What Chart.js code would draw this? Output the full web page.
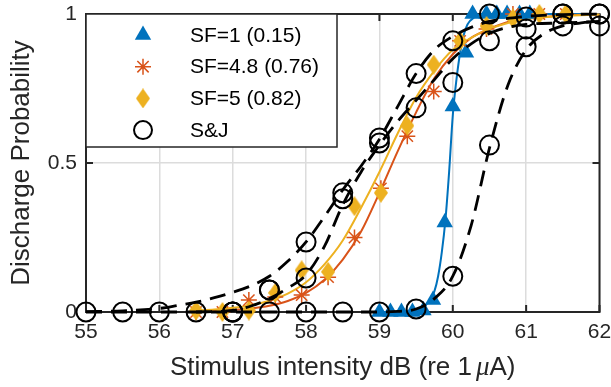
<!DOCTYPE html>
<html>
<head>
<meta charset="utf-8">
<style>
  html, body { margin: 0; padding: 0; background: #fff; }
  #c { display: block; }
</style>
<script src="https://cdn.jsdelivr.net/npm/chart.js@4.4.1/dist/chart.umd.min.js"></script>
</head>
<body>
<canvas id="c" width="611" height="387"></canvas>
<script>
const xTicks = [55, 56, 57, 58, 59, 60, 61, 62];
const yTicks = [0, 0.5, 1];
const yTickLabels = ['0', '0.5', '1'];

// SF=1 (blue triangles)
const sf1X = [59.0, 59.15, 59.3, 59.45, 59.6, 59.73, 59.89, 60.0, 60.18, 60.27, 60.46, 60.6, 60.74, 60.91, 61.05];
const sf1Y = [0, 0, 0, 0, 0.005, 0.04, 0.30, 0.69, 0.87, 1, 1, 1, 1, 1, 1];
const sf1FitX = [59, 59.4, 59.5, 59.6, 59.7, 59.75, 59.8, 59.85, 59.9, 59.95, 60, 60.05, 60.1, 60.15, 60.2, 60.3, 60.4, 62];
const sf1Fit = [0, 0, 0.004, 0.015, 0.045, 0.07, 0.12, 0.2, 0.31, 0.47, 0.66, 0.78, 0.87, 0.93, 0.965, 0.99, 1, 1];

// SF=4.8 (orange asterisks) and SF=5 (yellow diamonds), same stimulus levels
const sfX = [56.5, 56.86, 57.22, 57.58, 57.94, 58.3, 58.66, 59.02, 59.38, 59.74, 60.1, 60.46, 60.82, 61.18, 61.54];
const sf48Y = [0, 0, 0.04, 0.05, 0.057, 0.117, 0.25, 0.415, 0.59, 0.74, 0.91, 0.95, 1, 1, 1];
const sf5Y = [0.005, 0, 0.005, 0.064, 0.14, 0.135, 0.355, 0.40, 0.625, 0.83, 0.91, 0.96, 0.985, 1, 1];
const sfFitX = [56.5, 56.75, 57, 57.25, 57.5, 57.75, 58, 58.25, 58.5, 58.75, 59, 59.25, 59.5, 59.75, 60, 60.25, 60.5, 60.75, 61, 61.5, 62];
const sf48Fit = [0.002, 0.004, 0.007, 0.012, 0.021, 0.037, 0.064, 0.108, 0.176, 0.27, 0.40, 0.54, 0.67, 0.785, 0.865, 0.92, 0.95, 0.973, 0.984, 0.995, 0.998];
const sf5Fit = [0.005, 0.008, 0.014, 0.023, 0.038, 0.062, 0.10, 0.16, 0.24, 0.35, 0.47, 0.60, 0.72, 0.81, 0.88, 0.92, 0.95, 0.97, 0.983, 0.994, 0.998];

// S&J (black circles, dashed fits)
const sjX = [55, 55.5, 56, 56.5, 57, 57.5, 58, 58.5, 59, 59.5, 60, 60.5, 61, 61.5, 62];
const sjC = [0, 0, 0, 0, 0, 0, 0, 0, 0, 0.01, 0.12, 0.56, 0.89, 0.96, 0.96];
const sjABX = [57, 57.5, 58, 58.5, 59, 59.5, 60, 60.5, 61, 61.5, 62];
const sjA = [0, 0.074, 0.235, 0.40, 0.584, 0.80, 0.91, 1.0, 0.99, 1.0, 1.0];
const sjB = [0, 0.074, 0.114, 0.38, 0.567, 0.685, 0.77, 0.91, 0.95, 1.0, 1.0];
const sjFitAX = [55, 55.5, 56, 56.25, 56.5, 56.75, 57, 57.25, 57.5, 57.75, 58, 58.25, 58.5, 58.75, 59, 59.25, 59.5, 59.75, 60, 60.25, 60.5, 61, 61.5, 62];
const sjFitA = [0.001, 0.004, 0.012, 0.022, 0.033, 0.048, 0.066, 0.088, 0.12, 0.17, 0.235, 0.32, 0.41, 0.49, 0.58, 0.69, 0.80, 0.88, 0.925, 0.955, 0.975, 0.992, 0.998, 1.0];
const sjFitBX = [56.5, 57, 57.25, 57.5, 57.75, 58, 58.25, 58.5, 58.75, 59, 59.25, 59.5, 59.75, 60, 60.25, 60.5, 60.75, 61, 61.5, 62];
const sjFitB = [0, 0.005, 0.02, 0.045, 0.08, 0.125, 0.22, 0.36, 0.47, 0.56, 0.64, 0.71, 0.78, 0.85, 0.90, 0.935, 0.955, 0.965, 0.97, 0.975];
const sjFitCX = [55, 59, 59.25, 59.5, 59.75, 60, 60.25, 60.5, 60.75, 61, 61.25, 61.5, 61.75, 62];
const sjFitC = [0, 0, 0.002, 0.01, 0.045, 0.12, 0.29, 0.55, 0.76, 0.88, 0.935, 0.96, 0.97, 0.975];

const BLUE = '#0072BD', ORANGE = '#D95319', YELLOW = '#EDB120', INK = '#262626';
const FONT = '"Liberation Sans", Arial, sans-serif';

function pts(xs, ys) {
  return xs.map((x, i) => ({ x, y: ys[i] }));
}

function diamond(w, h, color) {
  const c = document.createElement('canvas');
  c.width = w; c.height = h;
  const g = c.getContext('2d');
  g.fillStyle = color;
  g.beginPath();
  g.moveTo(w / 2, 0); g.lineTo(w, h / 2); g.lineTo(w / 2, h); g.lineTo(0, h / 2);
  g.closePath();
  g.fill();
  return c;
}
const diamondImg = diamond(14, 20, YELLOW);

function fitLine(data, color, order, dashed) {
  return {
    data, order, borderColor: color, borderWidth: dashed ? 2.8 : 2,
    borderDash: dashed ? [16, 9] : [], pointRadius: 0, showLine: true,
    cubicInterpolationMode: 'monotone', fill: false, clip: false,
  };
}

function markers(label, data, style, order, legendIcon) {
  return Object.assign({
    label, data, order, showLine: false, clip: false, legendIcon,
  }, style);
}

const circleStyle = { pointStyle: 'circle', pointRadius: 9.5, pointBorderWidth: 2, pointBorderColor: '#000', pointBackgroundColor: 'rgba(0,0,0,0)' };

// legend icons drawn by hand, like the MATLAB legend
function drawIcon(ctx, kind, x, y) {
  ctx.save();
  if (kind === 'tri') {
    ctx.fillStyle = BLUE;
    ctx.beginPath();
    ctx.moveTo(x, y - 9.5); ctx.lineTo(x + 8.2, y + 4.75); ctx.lineTo(x - 8.2, y + 4.75);
    ctx.closePath(); ctx.fill();
  } else if (kind === 'star') {
    ctx.strokeStyle = ORANGE; ctx.lineWidth = 1.5;
    ctx.beginPath();
    const r = 8, d = r * Math.SQRT1_2;
    ctx.moveTo(x - r, y); ctx.lineTo(x + r, y);
    ctx.moveTo(x, y - r); ctx.lineTo(x, y + r);
    ctx.moveTo(x - d, y - d); ctx.lineTo(x + d, y + d);
    ctx.moveTo(x - d, y + d); ctx.lineTo(x + d, y - d);
    ctx.stroke();
  } else if (kind === 'dia') {
    ctx.drawImage(diamondImg, x - 7, y - 10);
  } else {
    ctx.strokeStyle = '#000'; ctx.lineWidth = 2;
    ctx.beginPath(); ctx.arc(x, y, 9, 0, Math.PI * 2); ctx.stroke();
  }
  ctx.restore();
}

const framePlugin = {
  id: 'frame',
  beforeDatasetsDraw(chart) {
    const { ctx, chartArea: a, scales: { x, y } } = chart;
    ctx.save();
    ctx.strokeStyle = INK;
    ctx.lineWidth = 2;
    ctx.beginPath();
    xTicks.forEach((v) => {
      const px = x.getPixelForValue(v);
      ctx.moveTo(px, a.bottom); ctx.lineTo(px, a.bottom - 7);
      ctx.moveTo(px, a.top); ctx.lineTo(px, a.top + 7);
    });
    yTicks.forEach((v) => {
      const py = y.getPixelForValue(v);
      ctx.moveTo(a.left, py); ctx.lineTo(a.left + 7, py);
      ctx.moveTo(a.right, py); ctx.lineTo(a.right - 7, py);
    });
    ctx.stroke();
    ctx.strokeRect(a.left, a.top, a.right - a.left, a.bottom - a.top);
    ctx.restore();
  },
  afterDraw(chart) {
    const { ctx, chartArea: a } = chart;
    ctx.save();
    ctx.fillStyle = INK;
    ctx.textBaseline = 'middle';

    // x title with an italic mu
    const normal = '26px ' + FONT;
    const italic = 'italic 27px "Liberation Serif", serif';
    const parts = [['Stimulus intensity dB (re 1', normal, 4], ['\u03bc', italic, 0], ['A)', normal, 0]];
    let total = 0;
    parts.forEach((p) => { ctx.font = p[1]; total += ctx.measureText(p[0]).width + p[2]; });
    let tx = (a.left + a.right) / 2 - total / 2;
    ctx.textAlign = 'left';
    parts.forEach((p) => {
      ctx.font = p[1];
      ctx.fillText(p[0], tx, 368);
      tx += ctx.measureText(p[0]).width + p[2];
    });

    // y title
    ctx.save();
    ctx.translate(22, (a.top + a.bottom) / 2);
    ctx.rotate(-Math.PI / 2);
    ctx.textAlign = 'center';
    ctx.font = normal;
    ctx.fillText('Discharge Probability', 0, 0);
    ctx.restore();

    // legend box
    const lx = a.left, ly = a.top, lw = 251, lh = 133;
    ctx.fillStyle = '#fff';
    ctx.fillRect(lx, ly, lw, lh);
    ctx.strokeStyle = INK;
    ctx.lineWidth = 1.5;
    ctx.strokeRect(lx, ly, lw, lh);
    ctx.font = '21px ' + FONT;
    ctx.fillStyle = '#000';
    ctx.textAlign = 'left';
    const rows = chart.data.datasets.filter((d) => d.legendIcon)
      .sort((p, q) => q.order - p.order);
    rows.forEach((d, i) => {
      const ry = ly + 21 + i * 31.7;
      drawIcon(ctx, d.legendIcon, lx + 57, ry);
      ctx.fillText(d.label, lx + 104, ry + 1);
    });
    ctx.restore();
  },
};

const datasets = [
  markers('S&J', pts(sjX, sjC), circleStyle, 1, 'circ'),
  markers('S&J A', pts(sjABX, sjA), circleStyle, 1),
  markers('S&J B', pts(sjABX, sjB), circleStyle, 1),
  fitLine(pts(sjFitAX, sjFitA), '#000', 2, true),
  fitLine(pts(sjFitBX, sjFitB), '#000', 2, true),
  fitLine(pts(sjFitCX, sjFitC), '#000', 2, true),
  markers('SF=5 (0.82)', pts(sfX, sf5Y), { pointStyle: diamondImg, pointRadius: 7 }, 3, 'dia'),
  markers('SF=4.8 (0.76)', pts(sfX, sf48Y), { pointStyle: 'star', pointRadius: 8, pointBorderWidth: 1.5, pointBorderColor: ORANGE }, 4, 'star'),
  markers('SF=1 (0.15)', pts(sf1X, sf1Y), { pointStyle: 'triangle', pointRadius: 9.5, pointBorderWidth: 0, pointBackgroundColor: BLUE, pointBorderColor: BLUE }, 5, 'tri'),
  fitLine(pts(sfFitX, sf5Fit), YELLOW, 6, false),
  fitLine(pts(sfFitX, sf48Fit), ORANGE, 6, false),
  fitLine(pts(sf1FitX, sf1Fit), BLUE, 6, false),
];

new Chart(document.getElementById('c'), {
  type: 'scatter',
  data: { datasets },
  plugins: [framePlugin],
  options: {
    responsive: false,
    animation: false,
    layout: { padding: { left: 0, right: 11, top: 14, bottom: 0 } },
    plugins: { legend: { display: false }, tooltip: { enabled: false } },
    scales: {
      x: {
        type: 'linear', min: 55, max: 62,
        afterBuildTicks: (s) => { s.ticks = xTicks.map((v) => ({ value: v })); },
        afterFit: (s) => { s.height = 75; s.paddingLeft = 0; s.paddingRight = 0; },
        ticks: { color: INK, font: { family: FONT, size: 21 }, padding: 8, maxRotation: 0 },
        grid: { color: '#dcdcdc', lineWidth: 1.5, drawTicks: false },
        border: { display: false },
      },
      y: {
        type: 'linear', min: 0, max: 1,
        afterBuildTicks: (s) => { s.ticks = yTicks.map((v) => ({ value: v })); },
        afterFit: (s) => { s.width = 86; s.paddingTop = 0; s.paddingBottom = 0; },
        ticks: { color: INK, font: { family: FONT, size: 21 }, padding: 9,
          callback: (v) => yTickLabels[yTicks.indexOf(v)] },
        grid: { color: '#dcdcdc', lineWidth: 1.5, drawTicks: false },
        border: { display: false },
      },
    },
  },
});
</script>
</body>
</html>
